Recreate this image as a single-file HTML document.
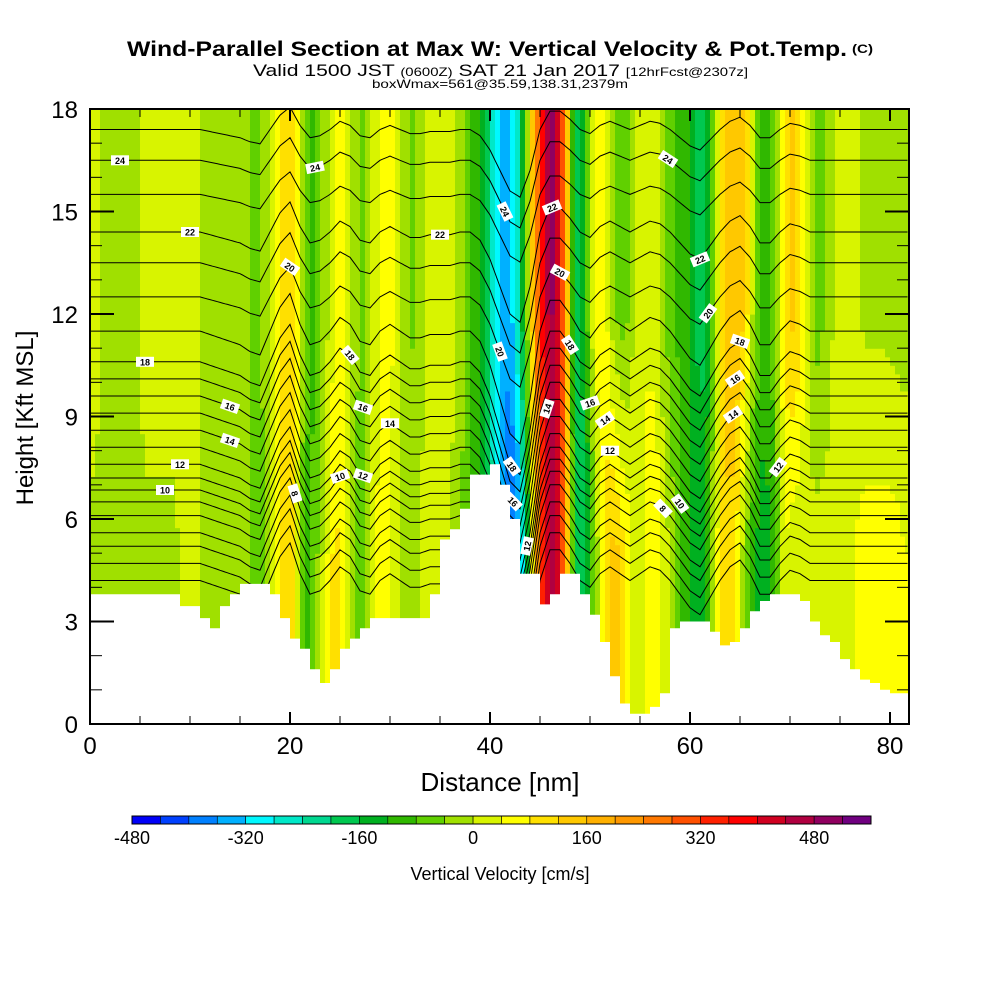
<!DOCTYPE html>
<html><head><meta charset="utf-8"><title>Wind-Parallel Section</title>
<style>
html,body{margin:0;padding:0;background:#fff;}
svg{display:block;font-family:"Liberation Sans",sans-serif;}
</style></head>
<body>
<svg id="chart" width="1000" height="1000" viewBox="0 0 1000 1000" xmlns="http://www.w3.org/2000/svg">
<rect x="0" y="0" width="1000" height="1000" fill="#fff"/>
<text x="127" y="56" font-size="21" font-weight="bold" textLength="720" lengthAdjust="spacingAndGlyphs">Wind-Parallel Section at Max W: Vertical Velocity &amp; Pot.Temp.</text>
<text x="852" y="53" font-size="12" font-weight="bold" textLength="21" lengthAdjust="spacingAndGlyphs">(C)</text>
<text x="253" y="76" font-size="17" textLength="495" lengthAdjust="spacingAndGlyphs">Valid 1500 JST <tspan font-size="12">(0600Z)</tspan> SAT 21 Jan 2017 <tspan font-size="12">[12hrFcst@2307z]</tspan></text>
<text x="372" y="88" font-size="12" textLength="256" lengthAdjust="spacingAndGlyphs">boxWmax=561@35.59,138.31,2379m</text>
<defs><clipPath id="plotclip"><rect x="90" y="109" width="819" height="615"/></clipPath></defs>
<g id="heat" clip-path="url(#plotclip)"></g>
<g id="lines" clip-path="url(#plotclip)"></g>
<g id="terrain"></g>
<g id="labels" clip-path="url(#plotclip)"></g>
<g id="axes"></g>
<text x="500" y="791" font-size="26" text-anchor="middle">Distance [nm]</text>
<text transform="translate(33,418) rotate(-90)" font-size="24" text-anchor="middle">Height [Kft MSL]</text>
<g id="cbar"></g>
<text x="500" y="880" font-size="18" text-anchor="middle">Vertical Velocity [cm/s]</text>
</svg>
<script>
// ---- data ----
const wLow = [-5,-5,-5,-5,-5,-5,-5,-5,-5,10,10,-10,-10,-10,-20,-20,-60,-60,50,110,70,-100,-60,20,100,40,-60,-60,40,60,20,-40,-20,20,20,10,-20,-60,-100,-150,-250,-380,-420,-250,150,400,500,250,-180,-200,-40,100,140,80,20,40,80,20,-40,-100,-150,-120,20,120,100,-40,-120,-150,-80,40,10,10,20,20,20,30,40,60,60,60,60,40];
const wMid = [10,-10,-10,-10,-10,10,10,10,10,10,10,-10,-10,-10,-20,-30,-50,-20,50,100,100,-60,-100,-20,40,50,-20,-60,20,50,40,-20,-50,0,30,30,10,-40,-100,-160,-300,-360,-300,-100,200,420,500,250,-200,-120,60,60,-40,-60,10,40,20,-40,-80,-100,-160,-180,-40,120,160,120,-40,-100,-60,100,140,40,-60,-40,10,10,10,-10,-10,-10,-20,-20];
const terrainKft = [3.8,3.8,3.8,3.8,3.8,3.8,3.8,3.8,3.8,3.45,3.45,3.1,2.8,3.45,3.8,4.1,4.1,4.1,3.8,3.1,2.5,2.2,1.6,1.2,1.6,2.2,2.5,2.8,3.1,3.1,3.1,3.1,3.1,3.1,3.8,5.4,5.7,6.3,7.3,7.3,7.6,7.0,6.0,4.4,4.4,3.5,3.8,4.4,4.4,3.8,3.2,2.4,1.4,0.6,0.3,0.3,0.5,0.9,2.8,3.0,3.0,3.0,2.7,2.3,2.4,2.8,3.3,3.6,3.8,3.8,3.8,3.6,3.0,2.6,2.4,1.9,1.6,1.3,1.2,1.0,0.9,0.9];
const thetaLevels = [4,5,6,7,8,9,10,11,12,13,14,15,16,17,18,19,20,21,22,23,24,25];
const thetaBaseKft = [4.2,4.7,5.2,5.6,6.1,6.5,6.85,7.2,7.6,8.1,8.6,9.1,9.6,10.1,10.6,11.5,12.5,13.5,14.4,15.5,16.5,17.4];
const displaceKft = [0,0,0,0,0,0,0,0,0,0,0,0,-0.1,-0.2,-0.3,-0.4,-0.6,-0.7,0,0.7,1.1,0.2,-0.4,-0.3,0,0.4,0.2,-0.3,-0.4,0,0.2,0,-0.2,-0.2,-0.1,-0.1,-0.1,0,0,-0.3,-1.0,-2.0,-3.0,-3.3,-2.0,0,0.9,0.9,0.5,0,-0.2,0.2,0.4,0.2,0,0.2,0.4,0.3,0,-0.4,-0.8,-1.0,-0.5,0,0.4,0.6,0.2,-0.4,-0.4,0,0.3,0.2,0,0,0,0,0,0,0,0,0,0];
const labelTheta = [24,22,18,16,14,12,10,20,24,8,18,16,14,12,10,22,24,20,18,16,12,14,22,20,18,16,14,12,10,8,24,22,20,18,16,14,12];
const labelXnm = [3,10,5.5,14,14,9,7.5,20,22.5,20.5,26,27.3,30,27.3,25,35,41.5,41,42.2,42.3,43.7,45.7,46.2,47,48,50,51.5,52,59,57.3,57.8,61,61.8,65,64.5,64.3,68.8];
const xTicks = [0,20,40,60,80];
const yTicks = [0,3,6,9,12,15,18];
const cbarLabels = [-480,-320,-160,0,160,320,480];
const cbarColors = ["#0000f8","#0040ff","#0080ff","#00b0ff","#00f8ff","#00e8c8","#00d890","#00c850","#00b020","#30b800","#60d000","#a0e000","#d8f400","#ffff00","#ffe000","#ffc800","#ffb000","#ff9800","#ff7800","#ff5000","#ff2000","#ff0000","#d00020","#b00040","#900060","#700080"];

// ---- axis functions ----
const X0=90, X1=909, Y0=724, Y1=109, XMAX=81.9, YMAX=18;
const sx = v => X0 + v*(X1-X0)/XMAX;
const sy = v => Y0 - v*(Y0-Y1)/YMAX;
const NS="http://www.w3.org/2000/svg";
function mk(tag, attrs, parent){const e=document.createElementNS(NS,tag);for(const k in attrs)e.setAttribute(k,attrs[k]);parent.appendChild(e);return e;}
function interp(arr, x){const i=Math.max(0,Math.min(arr.length-1,Math.floor(x)));const j=Math.min(arr.length-1,i+1);const f=Math.max(0,Math.min(1,x-i));return arr[i]+(arr[j]-arr[i])*f;}
function colorFor(w){let k=Math.floor((w+480)/40);k=Math.max(0,Math.min(cbarColors.length-1,k));return cbarColors[k];}

// ---- heatmap ----
const heat=document.getElementById('heat');
const DX=0.5, DY=0.25;
for(let xi=0; xi*DX<XMAX; xi++){
  const xc=xi*DX+DX/2;
  const wl=interp(wLow,xc-0.5), wm=interp(wMid,xc-0.5);
  const ter=terrainKft[Math.min(terrainKft.length-1,Math.floor(xi*DX))];
  for(let yj=0; yj*DY<YMAX; yj++){
    const h=yj*DY+DY/2;
    if(h+DY<ter) continue;
    const t=Math.max(0,Math.min(1,(h-5)/7));
    const w=wl+(wm-wl)*t;
    const r=mk('rect',{x:sx(xi*DX).toFixed(2),y:sy(yj*DY+DY).toFixed(2),width:(sx(DX)-sx(0)+0.6).toFixed(2),height:(sy(0)-sy(DY)+0.6).toFixed(2),fill:colorFor(w)},heat);
    
    
  }
}

// ---- isentropes ----
const lines=document.getElementById('lines');
function lineH(k,x){const b=thetaBaseKft[k];const amp=b<12?1:(b<15?0.8:0.6);return b+amp*interp(displaceKft,x);}
for(let k=0;k<thetaLevels.length;k++){
  const pts=[];
  for(let x=0;x<=XMAX;x+=0.25){pts.push(sx(x).toFixed(1)+','+sy(lineH(k,x)).toFixed(1));}
  const p=mk('polyline',{points:pts.join(' '),fill:'none',stroke:'#000','stroke-width':1},lines);
  
  
}

// ---- terrain ----
const terr=document.getElementById('terrain');
let tp=[sx(0)+','+sy(0)];
for(let i=0;i<terrainKft.length;i++){const xa=i, xb=Math.min(XMAX,i+1);tp.push(sx(xa).toFixed(1)+','+sy(terrainKft[i]).toFixed(1));tp.push(sx(xb).toFixed(1)+','+sy(terrainKft[i]).toFixed(1));}
tp.push(sx(XMAX)+','+sy(0));
const tpoly=mk('polygon',{points:tp.join(' '),fill:'#fff',stroke:'none'},terr);



// ---- contour labels ----
const labs=document.getElementById('labels');
for(let i=0;i<labelTheta.length;i++){
  const k=thetaLevels.indexOf(labelTheta[i]); if(k<0) continue;
  const x=labelXnm[i]; const h=lineH(k,x);
  const dy=sy(lineH(k,x+0.3))-sy(lineH(k,x-0.3)); const dx=sx(0.6)-sx(0);
  let ang=Math.atan2(dy,dx)*180/Math.PI;
  const g=mk('g',{transform:`translate(${sx(x).toFixed(1)},${sy(h).toFixed(1)}) rotate(${ang.toFixed(1)})`},labs);
  
  
  mk('rect',{x:-9,y:-5,width:18,height:10,fill:'#fff'},g);
  const t=mk('text',{x:0,y:3.5,'font-size':9,'font-weight':'bold','text-anchor':'middle'},g);
  t.textContent=String(labelTheta[i]);
}

// ---- axes ----
const ax=document.getElementById('axes');
const fr=mk('rect',{x:X0,y:Y1,width:X1-X0,height:Y0-Y1,fill:'none',stroke:'#000','stroke-width':2},ax);


for(let v=0;v<=XMAX;v+=5){
  const major=xTicks.indexOf(v)>=0; const L=major?12:8;
  mk('line',{x1:sx(v),x2:sx(v),y1:Y0,y2:Y0-L,stroke:'#000','stroke-width':major?2:1},ax);
  mk('line',{x1:sx(v),x2:sx(v),y1:Y1,y2:Y1+L,stroke:'#000','stroke-width':major?2:1},ax);
}
for(const v of xTicks){
  const t=mk('text',{x:sx(v),y:754,'font-size':24,'text-anchor':'middle'},ax);
  
  
  t.textContent=String(v);
}
for(let v=0;v<=YMAX;v+=1){
  const major=yTicks.indexOf(v)>=0; const L=major?24:12;
  mk('line',{x1:X0,x2:X0+L,y1:sy(v),y2:sy(v),stroke:'#000','stroke-width':major?2:1},ax);
  mk('line',{x1:X1,x2:X1-L,y1:sy(v),y2:sy(v),stroke:'#000','stroke-width':major?2:1},ax);
}
for(const v of yTicks){
  const t=mk('text',{x:78,y:sy(v)+9,'font-size':24,'text-anchor':'end'},ax);
  
  
  t.textContent=String(v);
}

// ---- colorbar ----
const cb=document.getElementById('cbar');
const CB0=132, CB1=871, bw=(CB1-CB0)/cbarColors.length;
const cx = v => CB0 + (v+480)/40*bw;
for(let i=0;i<cbarColors.length;i++){
  const r=mk('rect',{x:(CB0+i*bw).toFixed(2),y:816,width:bw.toFixed(2),height:8,fill:cbarColors[i],stroke:'#000','stroke-width':0.6},cb);
  
  
}
mk('rect',{x:CB0,y:816,width:CB1-CB0,height:8,fill:'none',stroke:'#000','stroke-width':1},cb);
for(const v of cbarLabels){
  const t=mk('text',{x:cx(v).toFixed(1),y:844,'font-size':18,'text-anchor':'middle'},cb);
  
  
  t.textContent=String(v);
}
</script>
</body></html>
